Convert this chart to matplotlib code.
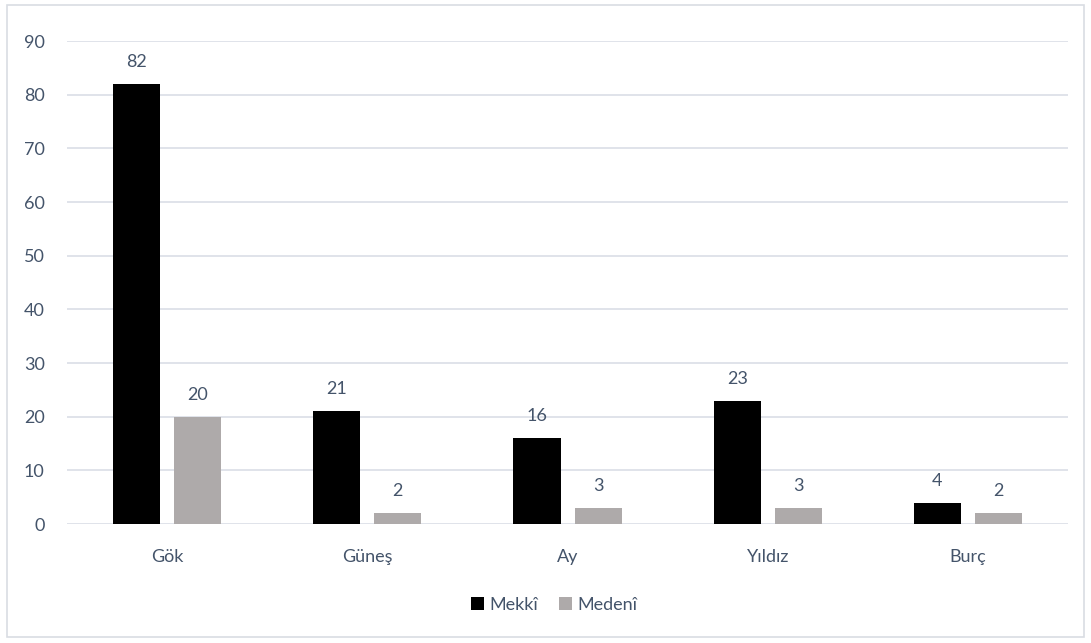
import numpy as np
import matplotlib.pyplot as plt
from matplotlib.patches import Rectangle

categories = ['Gök', 'Güneş', 'Ay', 'Yıldız', 'Burç']
mekki = [82, 21, 16, 23, 4]
medeni = [20, 2, 3, 3, 2]

txt = '#44546A'
plt.rcParams['font.family'] = ['Lato', 'DejaVu Sans']

fig = plt.figure(figsize=(10.91, 6.43), dpi=100)
ax = fig.add_axes([0.0614, 0.185, 0.9176, 0.751])
fig.patches.append(Rectangle((0.0064, 0.009), 0.987, 0.983, transform=fig.transFigure,
                             fill=False, edgecolor='#D9DDE3', linewidth=1.2))

x = np.arange(len(categories))
w = 0.235
off = 0.1525
b1 = ax.bar(x - off, mekki, w, color='#000000', label='Mekkî', zorder=3)
b2 = ax.bar(x + off, medeni, w, color='#AEAAAA', label='Medenî', zorder=3)
for bars in (b1, b2):
    for r in bars:
        ax.text(r.get_x() + r.get_width() / 2, r.get_height() + 2.6, str(int(r.get_height())),
                ha='center', va='bottom', fontsize=13, color=txt)

ax.set_xlim(-0.5, len(categories) - 0.5)
ax.set_ylim(0, 90)
ax.set_yticks(range(0, 91, 10))
ax.set_xticks(x)
ax.set_xticklabels(categories)
ax.yaxis.grid(True, color='#DDE1E8', linewidth=1.3, zorder=0)
ax.tick_params(axis='both', length=0, labelsize=13, labelcolor=txt)
ax.tick_params(axis='y', pad=16)
ax.tick_params(axis='x', pad=18)
for s in ax.spines.values():
    s.set_visible(False)

fig.legend(loc='center', bbox_to_anchor=(0.508, 0.059), ncol=2, frameon=False,
           fontsize=13, labelcolor=txt, handlelength=0.7, handleheight=0.7,
           handletextpad=0.3, columnspacing=1.2)

fig.savefig('out.png', dpi=100)
